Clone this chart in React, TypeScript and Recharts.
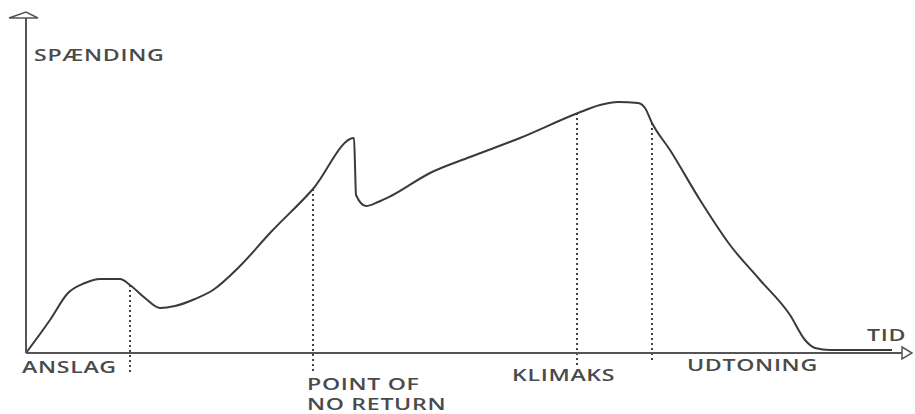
import React from 'react';
import {
  LineChart,
  Line,
  XAxis,
  YAxis,
  ReferenceLine,
  ReferenceDot,
} from 'recharts';

const tid = [0, 24, 42, 59, 74, 94, 104, 119, 134, 149, 169, 187, 214, 244, 287, 328, 329, 330, 340, 352, 365, 404, 444, 494, 552, 574, 592, 612, 619, 626, 644, 674, 704, 734, 764, 779, 789, 804, 866];
const spaending = [0, 33, 60, 70, 74, 74, 68, 55, 45, 47, 54, 63, 87, 120, 164, 215, 188, 158, 147, 151, 157, 180, 196, 215, 240, 248, 251, 250, 245, 230, 203, 153, 108, 73, 38, 13, 5, 3, 3];

// dotted markers: x, top and how far below the time axis they reach
const markers = [
  { x: 104, top: 68, bottom: -20 },
  { x: 287, top: 164, bottom: -20 },
  { x: 551, top: 240, bottom: -12 },
  { x: 626, top: 230, bottom: -10 },
];

const labels = [
  { text: 'SPÆNDING', left: 34, top: 45 },
  { text: 'TID', left: 867, top: 325 },
  { text: 'ANSLAG', left: 22, top: 357 },
  { text: 'POINT OF\nNO RETURN', left: 307, top: 374 },
  { text: 'KLIMAKS', left: 512, top: 365 },
  { text: 'UDTONING', left: 687, top: 355 },
];

const data = tid.map((t, i) => ({ tid: t, spaending: spaending[i] }));

const ink = '#3a3a3a';

const App: React.FC = () => {
  return (
    <div style={{ position: 'absolute', left: 0, top: 0, width: 915, height: 414, background: '#fff' }}>
      <LineChart
        width={915}
        height={414}
        data={data}
        margin={{ top: 12, right: 5, left: 25, bottom: 60 }}
      >
        <XAxis
          type='number'
          dataKey='tid'
          domain={[0, 884]}
          tick={false}
          tickLine={false}
          height={1}
          axisLine={{ stroke: '#555', strokeWidth: 2 }}
        />
        <YAxis
          type='number'
          domain={[0, 341]}
          tick={false}
          tickLine={false}
          width={1}
          axisLine={{ stroke: '#555', strokeWidth: 2 }}
        />
        {markers.map((m) => (
          <ReferenceLine
            key={m.x}
            segment={[
              { x: m.x, y: m.top },
              { x: m.x, y: m.bottom },
            ]}
            ifOverflow='visible'
            stroke='#444'
            strokeWidth={2}
            strokeDasharray='2 3'
          />
        ))}
        <Line
          type='monotone'
          dataKey='spaending'
          stroke={ink}
          strokeWidth={2}
          dot={false}
          isAnimationActive={false}
        />
        <ReferenceDot
          x={884}
          y={0}
          ifOverflow='visible'
          shape={(p: any) => (
            <polygon
              points={`${p.cx - 8},${p.cy - 6} ${p.cx + 2},${p.cy} ${p.cx - 8},${p.cy + 6}`}
              fill='#fff'
              stroke='#555'
              strokeWidth={1.5}
            />
          )}
        />
        <ReferenceDot
          x={0}
          y={341}
          ifOverflow='visible'
          shape={(p: any) => (
            <polygon
              points={`${p.cx - 17},${p.cy + 6} ${p.cx},${p.cy} ${p.cx + 12},${p.cy + 6}`}
              fill='#fff'
              stroke='#555'
              strokeWidth={1.5}
            />
          )}
        />
      </LineChart>
      {labels.map((l) => (
        <div
          key={l.text}
          style={{
            position: 'absolute',
            left: l.left,
            top: l.top,
            fontFamily: '"Open Sans", sans-serif',
            fontWeight: 600,
            fontSize: 17,
            letterSpacing: 0.5,
            color: '#4a4a4a',
            whiteSpace: 'pre',
            lineHeight: '20px',
            transform: 'scaleX(1.36)',
            transformOrigin: 'left top',
          }}
        >
          {l.text}
        </div>
      ))}
    </div>
  );
};

export default App;
